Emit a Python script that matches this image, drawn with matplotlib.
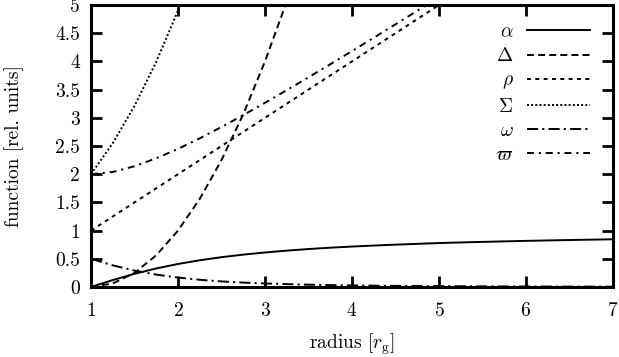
import matplotlib
matplotlib.use("Agg")
import matplotlib.pyplot as plt
from matplotlib.ticker import FormatStrFormatter

plt.rcParams["font.family"] = ["cmr10", "DejaVu Serif"]
plt.rcParams["mathtext.fontset"] = "cm"
plt.rcParams["axes.formatter.use_mathtext"] = True
plt.rcParams["lines.scale_dashes"] = False

# radius samples [r_g]
r = [1.0, 1.25, 1.5, 1.75, 2.0, 2.25, 2.5, 2.75, 3.0, 3.25, 3.5, 3.75,
     4.0, 4.25, 4.5, 4.75, 5.0, 5.25, 5.5, 6.0, 6.5, 7.0]

alpha = [0.0, 0.123, 0.234, 0.329, 0.408, 0.474, 0.529, 0.574, 0.612, 0.645,
         0.673, 0.697, 0.717, 0.735, 0.751, 0.765, 0.779, 0.790, 0.800, 0.818,
         0.833, 0.846]
delta = [0.0, 0.0625, 0.25, 0.5625, 1.0, 1.5625, 2.25, 3.0625, 4.0, 5.0625,
         6.25, 7.5625, 9.0, 10.56, 12.25, 14.06, 16.0, 18.06, 20.25, 25.0,
         30.25, 36.0]
rho = [1.0, 1.25, 1.5, 1.75, 2.0, 2.25, 2.5, 2.75, 3.0, 3.25, 3.5, 3.75,
       4.0, 4.25, 4.5, 4.75, 5.0, 5.25, 5.5, 6.0, 6.5, 7.0]
sigma = [2.0, 2.55, 3.211, 3.993, 4.899, 5.932, 7.093, 8.382, 9.798, 11.34,
         13.01, 14.81, 16.73, 18.78, 20.96, 23.26, 25.69, 28.24, 30.92, 36.66,
         42.90, 49.64]
omega = [0.5, 0.384, 0.291, 0.220, 0.167, 0.128, 0.099, 0.078, 0.0625, 0.051,
         0.041, 0.034, 0.029, 0.024, 0.0205, 0.0176, 0.0152, 0.013, 0.0115,
         0.0089, 0.0071, 0.0057]
varpi = [2.0, 2.04, 2.141, 2.282, 2.449, 2.636, 2.837, 3.048, 3.266, 3.49,
         3.718, 3.949, 4.183, 4.42, 4.658, 4.897, 5.138, 5.38, 5.62, 6.11,
         6.60, 7.09]

labels = [r"$\alpha$", r"$\Delta$", r"$\rho$", r"$\Sigma$", r"$\omega$", r"$\varpi$"]

fs = 14
fig = plt.figure(figsize=(6.19, 3.57), dpi=100)
ax = fig.add_axes([91 / 619, 70 / 357, 522 / 619, 282 / 357])

lw = 1.4
ax.plot(r, alpha, color="black", lw=lw, label=labels[0])
ax.plot(r, delta, color="black", lw=lw, dashes=(5, 3), label=labels[1])
ax.plot(r, rho, color="black", lw=lw, dashes=(2.8, 3.2), label=labels[2])
ax.plot(r, sigma, color="black", lw=lw, dashes=(1.4, 1.6), label=labels[3])
ax.plot(r, omega, color="black", lw=lw, dashes=(8, 3, 1.5, 3), label=labels[4])
ax.plot(r, varpi, color="black", lw=lw, dashes=(5, 3.5, 1.5, 3.5), label=labels[5])

ax.set_xlim(1, 7)
ax.set_ylim(0, 5)
ax.set_xticks([1, 2, 3, 4, 5, 6, 7])
ax.set_yticks([0, 0.5, 1, 1.5, 2, 2.5, 3, 3.5, 4, 4.5, 5])
ax.yaxis.set_major_formatter(FormatStrFormatter("%g"))
ax.tick_params(direction="in", length=8, width=2, top=True, right=True,
               labelsize=fs)
ax.tick_params(axis="x", pad=11)
ax.tick_params(axis="y", pad=8)
for s in ax.spines.values():
    s.set_linewidth(2.2)

ax.set_xlabel(r"radius [$r_{\rm g}$]", fontsize=fs, labelpad=8)
ax.set_ylabel("function [rel. units]", fontsize=fs, labelpad=22)

ax.legend(loc="upper right", bbox_to_anchor=(0.955, 0.935), frameon=False,
          markerfirst=False, fontsize=fs, handlelength=45 / fs,
          handletextpad=0.7, labelspacing=0.32, borderpad=0, borderaxespad=0)

fig.savefig("out.png", dpi=100)
